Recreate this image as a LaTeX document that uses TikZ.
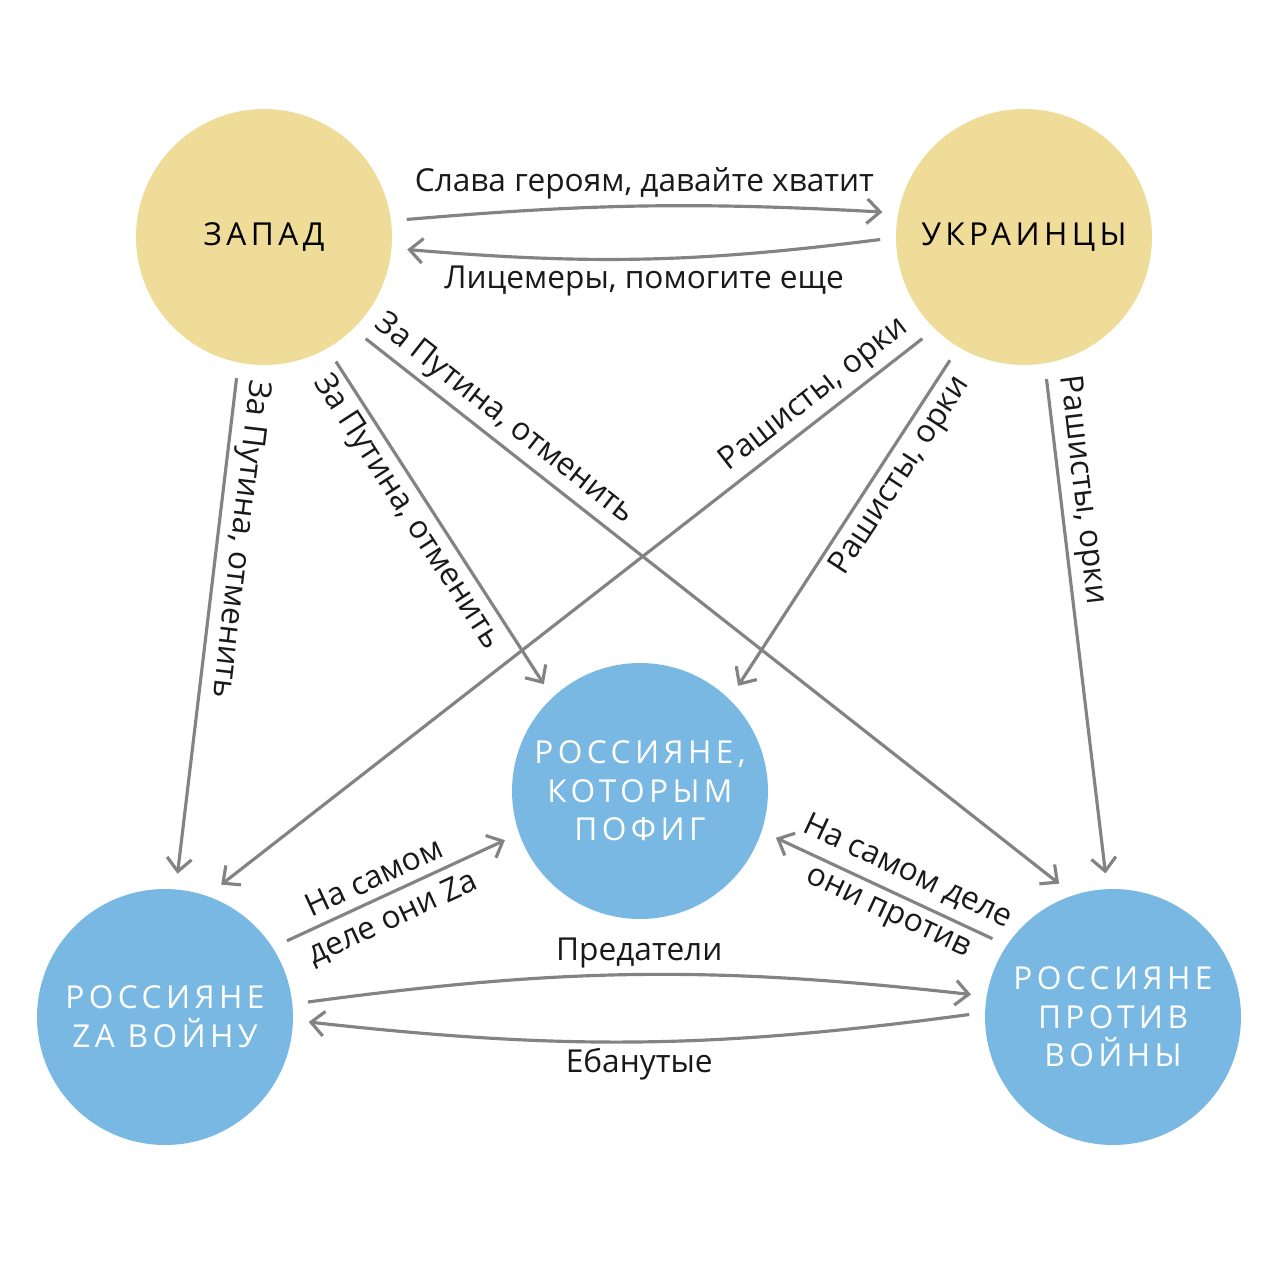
\documentclass[tikz,border=0pt]{standalone}
\usepackage{fontspec}
\setmainfont{Open Sans}
\newfontfamily\capsfont[LetterSpace=14]{Open Sans}
\usetikzlibrary{arrows.meta}
\definecolor{westgold}{HTML}{EEDC98}
\definecolor{rusblue}{HTML}{78B8E2}
\definecolor{arrgray}{HTML}{838383}
\tikzset{
  bigdot/.style={circle, minimum size=5.12cm, inner sep=0pt, outer sep=9pt, align=center,
    font=\capsfont\fontsize{18}{22}\selectfont},
  westdot/.style={bigdot, fill=westgold, text=black},
  rusdot/.style={bigdot, fill=rusblue, text=white},
  arr/.style={draw=arrgray, line width=1.8pt, -{Straight Barb[length=7.5pt,width=14pt]}},
  txt/.style={font=\fontsize{18}{21}\selectfont, text=black!90, inner sep=3pt},
  lbl/.style={txt, sloped},
}
\begin{document}
\begin{tikzpicture}[x=0.02cm, y=-0.02cm]
  \useasboundingbox (0,0) rectangle (1280,1280);
  % Circles
  \node[westdot] (zapad) at (264,237) {ЗАПАД};
  \node[westdot] (ukr) at (1024,237) {УКРАИНЦЫ};
  \node[rusdot] (pofig) at (640,791) {РОССИЯНЕ,\\КОТОРЫМ\\ПОФИГ};
  \node[rusdot] (za) at (165,1017) {РОССИЯНЕ\\ZA ВОЙНУ};
  \node[rusdot] (protiv) at (1113,1017) {РОССИЯНЕ\\ПРОТИВ\\ВОЙНЫ};
  % West and Ukrainians
  \draw[arr] (zapad.7) to[bend left=4] node[txt, above] {Слава героям, давайте хватит} (ukr.170);
  \draw[arr] (ukr.181) to[bend left=6] node[txt, below] {Лицемеры, помогите еще} (zapad.-5);
  % From the West
  \draw[arr] (zapad.-101) -- node[lbl, allow upside down, above, pos=0.32] {За Путина, отменить} (za.85);
  \draw[arr] (zapad.-60) -- node[lbl, allow upside down, below, pos=0.43] {За Путина, отменить} (pofig.132);
  \draw[arr] (zapad.-45) -- node[lbl, allow upside down, above, pos=0.18] {За Путина, отменить} (protiv.112);
  % From the Ukrainians
  \draw[arr] (ukr.-135) -- node[lbl, above, pos=0.135] {Рашисты, орки} (za.67);
  \draw[arr] (ukr.-121) -- node[lbl, below, pos=0.32] {Рашисты, орки} (pofig.47);
  \draw[arr] (ukr.-81) -- node[lbl, allow upside down, above, pos=0.23] {Рашисты, орки} (protiv.93);
  % Russians
  \draw[arr] (za.32) -- node[lbl, above, pos=0.44, inner sep=5pt] {На самом}
    node[lbl, below, pos=0.44, inner sep=5pt] {деле они Za} (pofig.-160);
  \draw[arr] (protiv.147) -- node[lbl, above, pos=0.44, inner sep=5pt] {На самом деле}
    node[lbl, below, pos=0.44, inner sep=5pt] {они против} (pofig.-19);
  \draw[arr] (za.6) to[bend left=7] node[txt, above] {Предатели} (protiv.171);
  \draw[arr] (protiv.179) to[bend left=7] node[txt, below] {Ебанутые} (za.-2);
\end{tikzpicture}
\end{document}
